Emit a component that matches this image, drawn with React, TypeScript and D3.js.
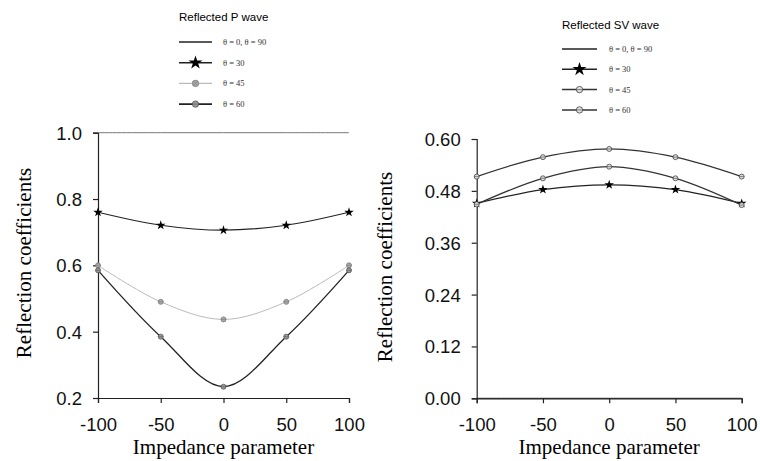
import * as d3 from 'd3';
import React, { useRef, useEffect } from 'react';

// impedance parameter values (x)
const impedance = [-100, -50, 0, 50, 100];

// Reflected P wave
const pTheta0 = [1.0, 1.0, 1.0, 1.0, 1.0];
const pTheta30 = [0.76, 0.721, 0.706, 0.721, 0.76];
const pTheta45 = [0.6, 0.49, 0.437, 0.49, 0.6];
const pTheta60 = [0.585, 0.385, 0.234, 0.385, 0.585];
const pTicks = [0.2, 0.4, 0.6, 0.8, 1.0];

// Reflected SV wave
const svTheta0 = [0, 0, 0, 0, 0];
const svTheta30 = [0.451, 0.483, 0.494, 0.483, 0.451];
const svTheta45 = [0.449, 0.509, 0.536, 0.509, 0.447];
const svTheta60 = [0.513, 0.558, 0.577, 0.558, 0.513];
const svTicks = [0.0, 0.12, 0.24, 0.36, 0.48, 0.6];

const xTicks = [-100, -50, 0, 50, 100];
const legendLabels = ["θ = 0, θ = 90", "θ = 30", "θ = 45", "θ = 60"];

function App() {
    const ref = useRef(null);

    useEffect(() => {
        const svg = d3.select(ref.current);
        svg.selectAll("*").remove();

        const star = d3.symbol().type(d3.symbolStar);

        // star, circle with bar, or circle with cross
        const drawMarker = (g, type, x, y, fill, stroke, big) => {
            if (type === "star") {
                g.append("path")
                    .attr("d", star.size(big ? 60 : 28)())
                    .attr("transform", `translate(${x},${y})`)
                    .attr("fill", "black");
                return;
            }
            const r = big ? 3.2 : 2.5;
            g.append("circle")
                .attr("cx", x).attr("cy", y).attr("r", r)
                .attr("fill", fill)
                .attr("stroke", stroke)
                .attr("stroke-width", 0.8);
            if (type === "cross" && big) {
                const k = r * 0.7;
                g.append("path")
                    .attr("d", `M${x - k},${y - k}L${x + k},${y + k}M${x - k},${y + k}L${x + k},${y - k}`)
                    .attr("stroke", stroke).attr("stroke-width", 0.6);
            } else {
                g.append("line")
                    .attr("x1", x - r).attr("x2", x + r)
                    .attr("y1", y).attr("y2", y)
                    .attr("stroke", stroke).attr("stroke-width", 0.6);
            }
        };

        const panel = (opts) => {
            const { x0, x1, yTop, yBot, domain, ticks, fmt, series, legend } = opts;
            const g = svg.append("g");
            const x = d3.scaleLinear().domain([-100, 100]).range([x0, x1]);
            const y = d3.scaleLinear().domain(domain).range([yBot, yTop]);

            const line = d3.line()
                .x((d, i) => x(impedance[i]))
                .y(d => y(d))
                .curve(d3.curveCatmullRom.alpha(0.5));

            // axes
            const xAxis = g.append("g")
                .attr("transform", `translate(0,${yBot})`)
                .call(d3.axisBottom(x).tickValues(xTicks).tickSize(5).tickPadding(15).tickFormat(d => String(d)));
            const yAxis = g.append("g")
                .attr("transform", `translate(${x0},0)`)
                .call(d3.axisLeft(y).tickValues(ticks).tickSize(5).tickPadding(11).tickFormat(fmt));
            [xAxis, yAxis].forEach(a => {
                a.select(".domain").attr("stroke", "#222").attr("stroke-width", 1.2);
                a.selectAll(".tick line").attr("stroke", "#222").attr("stroke-width", 1.2);
                a.selectAll("text")
                    .attr("font-family", "'Liberation Sans', Arial, sans-serif")
                    .attr("font-size", 18.5)
                    .attr("fill", "#111");
            });
            xAxis.selectAll("text").attr("dy", "0.71em");
            yAxis.selectAll("text").attr("dy", "0.35em");

            // series
            series.forEach(s => {
                g.append("path")
                    .datum(s.values)
                    .attr("d", line)
                    .attr("fill", "none")
                    .attr("stroke", s.color)
                    .attr("stroke-width", s.width);
                if (s.marker !== "none") {
                    s.values.forEach((v, i) => drawMarker(g, s.marker, x(impedance[i]), y(v), s.mfill, s.mstroke, false));
                }
            });

            // axis titles
            g.append("text")
                .attr("x", (x0 + x1) / 2)
                .attr("y", yBot + 56)
                .attr("text-anchor", "middle")
                .attr("font-family", "'Liberation Serif', 'Times New Roman', serif")
                .attr("font-size", 21)
                .text("Impedance parameter");
            g.append("text")
                .attr("transform", `translate(${opts.ytitleX},${opts.ytitleY}) rotate(-90)`)
                .attr("text-anchor", "middle")
                .attr("font-family", "'Liberation Serif', 'Times New Roman', serif")
                .attr("font-size", 21)
                .text("Reflection coefficients");

            // legend
            const lg = g.append("g");
            lg.append("text")
                .attr("x", legend.x).attr("y", legend.titleY)
                .attr("font-family", "'Liberation Sans', Arial, sans-serif")
                .attr("font-size", 11.5)
                .attr("dy", "0.35em")
                .text(legend.title);
            series.forEach((s, i) => {
                const ly = legend.rowY + i * legend.step;
                lg.append("line")
                    .attr("x1", legend.x).attr("x2", legend.x + legend.len)
                    .attr("y1", ly).attr("y2", ly)
                    .attr("stroke", s.lcolor || s.color)
                    .attr("stroke-width", s.width + 0.3);
                if (s.marker !== "none") {
                    drawMarker(lg, s.marker, legend.x + legend.len / 2, ly, s.mfill, s.mstroke, true);
                }
                lg.append("text")
                    .attr("x", legend.x + legend.len + legend.gap)
                    .attr("y", ly)
                    .attr("dy", "0.35em")
                    .attr("font-family", "'Liberation Serif', 'Times New Roman', serif")
                    .attr("font-size", 8.5)
                    .attr("fill", "#333")
                    .text(legendLabels[i]);
            });
        };

        panel({
            x0: 98, x1: 349, yTop: 132.7, yBot: 398, domain: [0.2, 1.0],
            ticks: pTicks, fmt: d3.format(".1f"), ytitleX: 31, ytitleY: 263,
            series: [
                { values: pTheta0, color: "#777", lcolor: "#222", width: 1, marker: "none" },
                { values: pTheta30, color: "#222", width: 1.2, marker: "star" },
                { values: pTheta45, color: "#bbb", width: 1, marker: "cross", mfill: "#aaa", mstroke: "#777" },
                { values: pTheta60, color: "#222", width: 1.3, marker: "circle", mfill: "#999", mstroke: "#555" },
            ],
            legend: { title: "Reflected P wave", x: 179, titleY: 17, rowY: 42, step: 20.7, len: 33, gap: 11 },
        });

        panel({
            x0: 476.7, x1: 741.7, yTop: 139, yBot: 398.3, domain: [0, 0.6],
            ticks: svTicks, fmt: d3.format(".2f"), ytitleX: 392, ytitleY: 267,
            series: [
                { values: svTheta0, color: "#222", width: 1, marker: "none" },
                { values: svTheta30, color: "#222", width: 1.2, marker: "star" },
                { values: svTheta45, color: "#333", width: 1.2, marker: "circle", mfill: "#ddd", mstroke: "#444" },
                { values: svTheta60, color: "#333", width: 1.2, marker: "circle", mfill: "#ddd", mstroke: "#444" },
            ],
            legend: { title: "Reflected SV wave", x: 562, titleY: 25, rowY: 49, step: 20.3, len: 35, gap: 12 },
        });
    }, []);

    return (
        <div className="chart">
            <svg ref={ref} width={760} height={461}
                style={{ position: "absolute", left: 0, top: 0, background: "white" }}>
            </svg>
        </div>
    );
}

export default App;
